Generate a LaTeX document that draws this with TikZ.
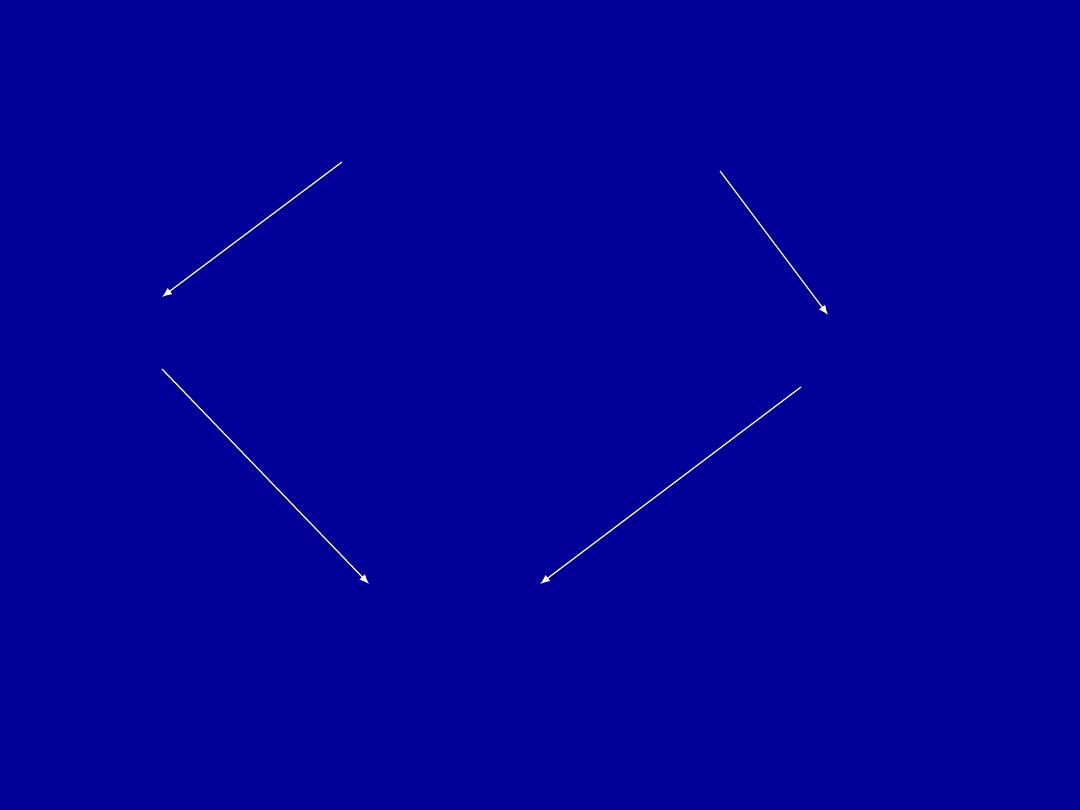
\documentclass[tikz,border=0pt]{standalone}
\usetikzlibrary{arrows.meta}
\definecolor{bgblue}{RGB}{0,0,153}
\begin{document}
\begin{tikzpicture}[x=0.01cm,y=-0.01cm,
  conn/.style={white,line width=0.35pt,-{Latex[length=2.8pt,width=2.2pt]}}]
\fill[bgblue] (0,0) rectangle (1080,810);
\useasboundingbox (0,0) rectangle (1080,810);
\coordinate (a1) at (342,162); \coordinate (b1) at (162,297);
\coordinate (a2) at (720,171); \coordinate (b2) at (828,315);
\coordinate (a3) at (162,369); \coordinate (b3) at (369,584);
\coordinate (a4) at (801,387); \coordinate (b4) at (540,584);
\draw[conn] (a1) -- (b1);
\draw[conn] (a2) -- (b2);
\draw[conn] (a3) -- (b3);
\draw[conn] (a4) -- (b4);
\end{tikzpicture}
\end{document}
